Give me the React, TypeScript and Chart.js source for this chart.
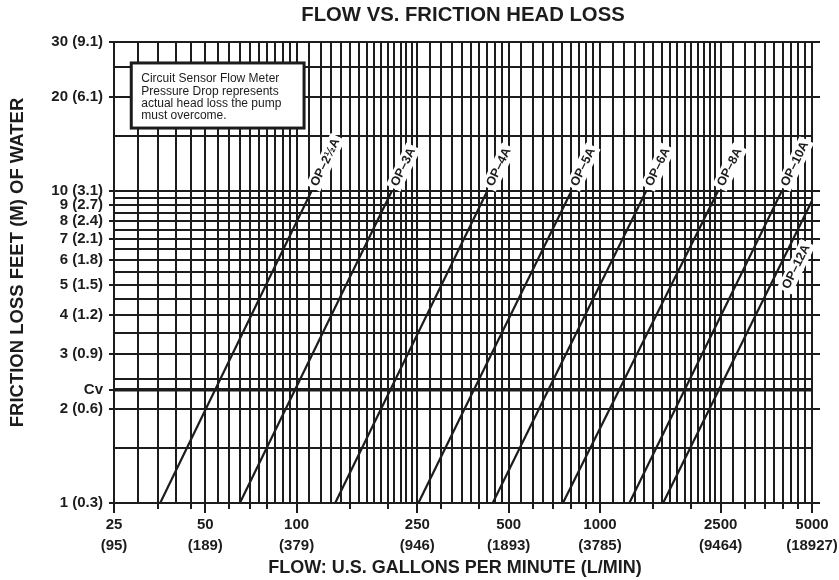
import React, { useEffect, useRef } from 'react';
import { Chart, registerables } from 'chart.js';

Chart.register(...registerables);

const FONT = "'Liberation Sans', Arial, Helvetica, sans-serif";
const INK = '#1c1c1c';

const chartTitle = 'FLOW VS. FRICTION HEAD LOSS';
const xTitle = 'FLOW: U.S. GALLONS PER MINUTE (L/MIN)';
const yTitle = 'FRICTION LOSS FEET (M) OF WATER';

// Series: straight lines on log-log paper
const seriesNames = ['OP–2½A', 'OP–3A', 'OP–4A', 'OP–5A', 'OP–6A', 'OP–8A', 'OP–10A', 'OP–12A'];
const flowAt1ft = [35.5, 65, 134, 252, 443, 755, 1250, 1615];
const flowAtTop = [112, 206, 425, 805, 1420, 2450, 3975, 5000];
const headAtTop = [10, 10, 10, 10, 10, 10, 10, 9.3];
// label placement: 0 = beyond top end, otherwise head value along line (label beside line)
const labelHeadInside = [0, 0, 0, 0, 0, 0, 0, 6];

const CV = 2.31;

// Grid lines
const xGrid = [
  25, 30, 35, 40, 45, 50, 55, 60, 65, 70, 75, 80, 85, 90, 95, 100,
  110, 120, 130, 140, 150, 160, 170, 180, 190, 200, 210, 220, 230, 240, 250,
  275, 300, 325, 350, 375, 400, 425, 450, 475, 500,
  550, 600, 650, 700, 750, 800, 850, 900, 950, 1000,
  1100, 1200, 1300, 1400, 1500, 1600, 1700, 1800, 1900, 2000, 2100, 2200, 2300, 2400, 2500,
  2750, 3000, 3250, 3500, 3750, 4000, 4250, 4500, 4750, 5000,
];
const yGrid = [1, 1.5, 2, CV, 2.5, 3, 3.5, 4, 4.5, 5, 5.5, 6, 6.5, 7, 7.5, 8, 8.5, 9, 9.5, 10, 15, 20, 25, 30];

// Tick labels
const xLabelValues = [25, 50, 100, 250, 500, 1000, 2500, 5000];
const xLabelGpm = ['25', '50', '100', '250', '500', '1000', '2500', '5000'];
const xLabelLpm = ['(95)', '(189)', '(379)', '(946)', '(1893)', '(3785)', '(9464)', '(18927)'];
const xMinorTicks = [35, 45, 60, 70, 80, 150, 200, 300, 400, 600, 700, 800, 900, 1500, 2000, 3000, 3500, 4000, 4500];

const yLabelValues = [30, 20, 10, 9, 8, 7, 6, 5, 4, 3, CV, 2, 1];
const yLabelTexts = ['30 (9.1)', '20 (6.1)', '10 (3.1)', '9 (2.7)', '8 (2.4)', '7 (2.1)', '6 (1.8)', '5 (1.5)', '4 (1.2)', '3 (0.9)', 'Cv', '2 (0.6)', '1 (0.3)'];
const yRightTicks = [1, 2, 3, 4, 5, 6, 7, 8, 9, 10, 20, 30];

// Note box (data coordinates)
const noteLines = ['Circuit Sensor Flow Meter', 'Pressure Drop represents', 'actual head loss the pump', 'must overcome.'];
const noteX = [28.5, 105.8];
const noteY = [25.7, 15.9];

const decorPlugin = {
  id: 'decor',
  afterDatasetsDraw(chart: any) {
    const { ctx, chartArea: a, scales } = chart;
    const xs = scales.x;
    const ys = scales.y;
    ctx.save();
    ctx.strokeStyle = INK;
    ctx.lineWidth = 2;
    const seg = (x0: number, y0: number, x1: number, y1: number) => {
      ctx.beginPath();
      ctx.moveTo(x0, y0);
      ctx.lineTo(x1, y1);
      ctx.stroke();
    };
    const al = (p: number) => Math.round(p);
    xLabelValues.forEach((v) => {
      const px = al(xs.getPixelForValue(v));
      seg(px, a.bottom, px, a.bottom + 10);
    });
    xMinorTicks.forEach((v) => {
      const px = al(xs.getPixelForValue(v));
      seg(px, a.bottom, px, a.bottom + 6);
    });
    yLabelValues.forEach((v) => {
      const py = al(ys.getPixelForValue(v));
      seg(a.left - 5, py, a.left, py);
    });
    yRightTicks.forEach((v) => {
      const py = al(ys.getPixelForValue(v));
      seg(a.right, py, a.right + 8, py);
    });

    // Note box
    const bx0 = xs.getPixelForValue(noteX[0]);
    const bx1 = xs.getPixelForValue(noteX[1]);
    const by0 = ys.getPixelForValue(noteY[0]);
    const by1 = ys.getPixelForValue(noteY[1]);
    ctx.fillStyle = '#ffffff';
    ctx.fillRect(bx0, by0, bx1 - bx0, by1 - by0);
    ctx.lineWidth = 3;
    ctx.strokeRect(bx0, by0, bx1 - bx0, by1 - by0);
    ctx.fillStyle = INK;
    ctx.font = `12px ${FONT}`;
    ctx.textAlign = 'left';
    ctx.textBaseline = 'middle';
    noteLines.forEach((t, i) => {
      ctx.fillText(t, bx0 + 10, by0 + 16 + i * 12.3);
    });

    // Series labels
    ctx.font = `bold 12.5px ${FONT}`;
    chart.data.datasets.forEach((ds: any, i: number) => {
      const meta = chart.getDatasetMeta(i);
      const p0 = meta.data[0];
      const p1 = meta.data[1];
      const dx = p1.x - p0.x;
      const dy = p1.y - p0.y;
      const len = Math.hypot(dx, dy);
      const ux = dx / len;
      const uy = dy / len;
      const ang = Math.atan2(dy, dx);
      const name = seriesNames[i];
      const w = ctx.measureText(name).width;
      let cx: number;
      let cy: number;
      if (labelHeadInside[i]) {
        const py = ys.getPixelForValue(labelHeadInside[i]);
        const t = (py - p0.y) / dy;
        const off = 15;
        cx = p0.x + dx * t + -uy * off;
        cy = py + ux * off;
      } else {
        const d = 6 + w / 2;
        cx = p1.x + ux * d;
        cy = p1.y + uy * d;
      }
      ctx.save();
      ctx.translate(cx, cy);
      ctx.rotate(ang);
      ctx.fillStyle = '#ffffff';
      ctx.fillRect(-w / 2 - 3, -8, w + 6, 16);
      ctx.fillStyle = INK;
      ctx.textAlign = 'center';
      ctx.textBaseline = 'middle';
      ctx.fillText(name, 0, 0);
      ctx.restore();
    });

    // Axis titles
    ctx.fillStyle = INK;
    ctx.textAlign = 'center';
    ctx.textBaseline = 'middle';
    ctx.font = `bold 18px ${FONT}`;
    ctx.fillText(xTitle, (a.left + a.right) / 2 - 8, 568);
    ctx.save();
    ctx.translate(18, (a.top + a.bottom) / 2 - 10);
    ctx.rotate(-Math.PI / 2);
    ctx.font = `bold 18.5px ${FONT}`;
    ctx.fillText(yTitle, 0, 0);
    ctx.restore();
    ctx.restore();
  },
};

export default function App() {
  const ref = useRef<HTMLCanvasElement | null>(null);
  useEffect(() => {
    if (!ref.current) return;
    const chart = new Chart(ref.current, {
      type: 'line',
      data: {
        datasets: seriesNames.map((name, i) => ({
          label: name,
          data: [
            { x: flowAt1ft[i], y: 1 },
            { x: flowAtTop[i], y: headAtTop[i] },
          ],
          borderColor: INK,
          borderWidth: 2.2,
          pointRadius: 0,
          fill: false,
          tension: 0,
        })),
      },
      options: {
        responsive: false,
        animation: false,
        events: [],
        layout: { padding: { left: 0, right: 27, top: 0, bottom: 0 } },
        plugins: {
          legend: { display: false },
          tooltip: { enabled: false },
          title: {
            display: true,
            text: chartTitle,
            fullSize: false,
            color: INK,
            font: { family: FONT, size: 20.3, weight: 'bold', lineHeight: 1.2 },
            padding: { top: 3, bottom: 14.64 },
          },
        },
        scales: {
          x: {
            type: 'logarithmic',
            min: 25,
            max: 5000,
            afterBuildTicks: (s: any) => {
              s.ticks = xGrid.map((v) => ({ value: v }));
            },
            afterFit: (s: any) => {
              s.height = 77;
              s.paddingLeft = 0;
              s.paddingRight = 0;
            },
            ticks: {
              autoSkip: false,
              maxRotation: 0,
              minRotation: 0,
              padding: 12,
              color: INK,
              font: { family: FONT, size: 15, weight: 'bold', lineHeight: 1.35 },
              callback: (value: any) => {
                const i = xLabelValues.indexOf(Number(value));
                return i >= 0 ? [xLabelGpm[i], xLabelLpm[i]] : '';
              },
            },
            grid: { color: INK, lineWidth: 2, drawTicks: false },
            border: { display: true, color: INK, width: 2 },
          },
          y: {
            type: 'logarithmic',
            min: 1,
            max: 30,
            afterBuildTicks: (s: any) => {
              s.ticks = yGrid.map((v) => ({ value: v }));
            },
            afterFit: (s: any) => {
              s.width = 114;
              s.paddingTop = 0;
              s.paddingBottom = 0;
            },
            ticks: {
              autoSkip: false,
              padding: 11,
              color: INK,
              font: { family: FONT, size: 15, weight: 'bold', lineHeight: 1.2 },
              callback: (value: any) => {
                const i = yLabelValues.indexOf(Number(value));
                return i >= 0 ? yLabelTexts[i] : '';
              },
            },
            grid: {
              color: INK,
              lineWidth: (c: any) => (c.tick && c.tick.value === CV ? 3.5 : 2),
              drawTicks: false,
            },
            border: { display: true, color: INK, width: 2 },
          },
        },
      },
      plugins: [decorPlugin],
    } as any);
    return () => chart.destroy();
  }, []);
  return (
    <div style={{ position: 'absolute', left: 0, top: 0, width: 839, height: 580, background: '#fff' }}>
      <canvas ref={ref} width={839} height={580} style={{ display: 'block' }} />
    </div>
  );
}
